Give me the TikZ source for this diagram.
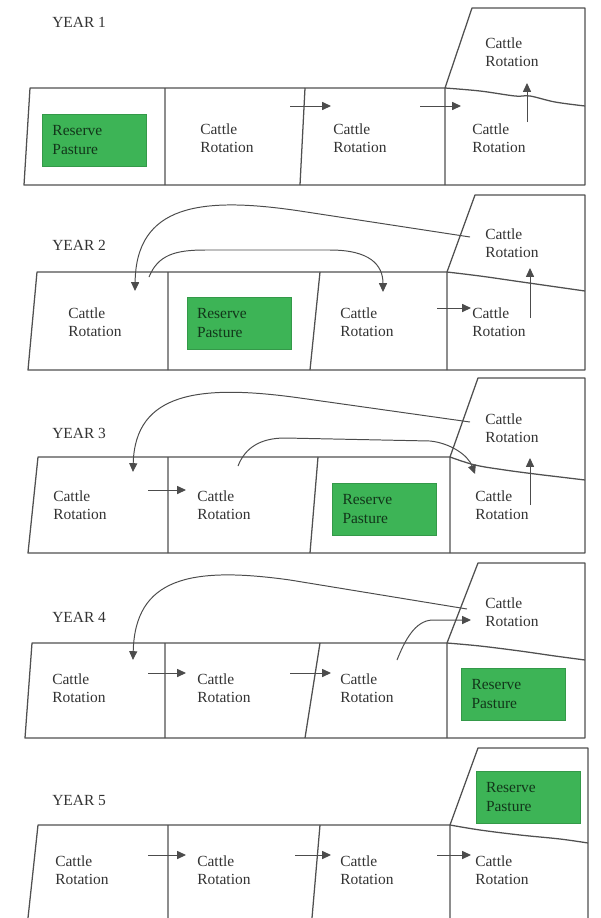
\documentclass[tikz,border=0pt]{standalone}
\usepackage{fontspec}
\setmainfont{Liberation Serif}
\usepackage{xcolor}
\usepackage{tikz}
\usetikzlibrary{arrows.meta}
\definecolor{ResGreen}{HTML}{3DB456}
\definecolor{FieldLine}{HTML}{505050}

\begin{document}
\begin{tikzpicture}[
	x=0.25mm, y=-0.25mm,
	field/.style={draw=FieldLine, line width=0.9pt, line join=round},
	lbl/.style={anchor=west, align=left, inner sep=0pt, font=\fontsize{11}{13}\selectfont, text=black!80},
	yearlbl/.style={anchor=west, inner sep=0pt, font=\fontsize{11}{13}\selectfont, text=black!80},
	resbox/.style={fill=ResGreen, draw=ResGreen!85!black, minimum width=26mm, minimum height=13mm, text width=21mm, inner xsep=2.5mm, align=left, font=\fontsize{11}{13}\selectfont, text=black!70!ResGreen},
	flow/.style={-{Triangle[length=2.2mm, width=2mm]}, draw=black!70, line width=0.7pt}
]
\useasboundingbox (0,0) rectangle (600,918);

\draw[field] (445,88) -- (472,8) -- (585,8) -- (585,185) -- (24,185) -- (30,88) -- cycle;
\draw[field] (165,88) -- (165,185) (305,88) -- (300,185) (445,88) -- (445,185);
\draw[field] plot[smooth, tension=0.6] coordinates {(445,88) (480,91) (515,96) (530,96) (555,102) (585,106)};
\node[yearlbl] (year1) at (52,22) {YEAR 1};
\node[resbox] (res1) at (94.5,140) {Reserve\\Pasture};
\node[lbl] (cr12) at (200,138) {Cattle\\Rotation};
\node[lbl] (cr13) at (333,138) {Cattle\\Rotation};
\node[lbl] (cr14) at (472,138) {Cattle\\Rotation};
\node[lbl] (up1) at (485,52) {Cattle\\Rotation};
\coordinate (y1a) at (290,106); \coordinate (y1b) at (331,106);
\coordinate (y1c) at (420,106); \coordinate (y1d) at (461,106);
\coordinate (y1e) at (527,122); \coordinate (y1f) at (527,83);
\draw[flow] (y1a) -- (y1b);
\draw[flow] (y1c) -- (y1d);
\draw[flow] (y1e) -- (y1f);

\draw[field] (447,272) -- (475,195) -- (585,195) -- (585,370) -- (28,370) -- (37,272) -- cycle;
\draw[field] (168,272) -- (168,370) (320,272) -- (310,370) (447,272) -- (447,370);
\draw[field] plot[smooth, tension=0.6] coordinates {(447,272) (480,276) (515,281) (550,286) (585,291)};
\node[yearlbl] (year2) at (52,245) {YEAR 2};
\node[lbl] (cr21) at (68,322) {Cattle\\Rotation};
\node[resbox] (res2) at (239,323) {Reserve\\Pasture};
\node[lbl] (cr23) at (340,322) {Cattle\\Rotation};
\node[lbl] (cr24) at (472,322) {Cattle\\Rotation};
\node[lbl] (up2) at (485,243) {Cattle\\Rotation};
\coordinate (y2a) at (470,237); \coordinate (y2b) at (300,211); \coordinate (y2c) at (135,291);
\coordinate (y2d) at (149,277); \coordinate (y2e) at (205,250); \coordinate (y2f) at (330,250); \coordinate (y2g) at (383,292);
\coordinate (y2h) at (437,308); \coordinate (y2i) at (471,308);
\coordinate (y2j) at (530,318); \coordinate (y2k) at (530,268);
\draw[flow] (y2a) -- (y2b) .. controls (200,196) and (136,205) .. (y2c);
\draw[flow] (y2d) .. controls (158,255) and (175,250) .. (y2e) -- (y2f) .. controls (370,250) and (383,265) .. (y2g);
\draw[flow] (y2h) -- (y2i);
\draw[flow] (y2j) -- (y2k);

\draw[field] (450,457) -- (478,378) -- (585,378) -- (585,553) -- (28,553) -- (38,457) -- cycle;
\draw[field] (168,457) -- (168,553) (318,457) -- (310,553) (450,457) -- (450,553);
\draw[field] plot[smooth, tension=0.6] coordinates {(450,457) (475,465) (505,470) (535,474) (560,477) (585,480)};
\node[yearlbl] (year3) at (52,433) {YEAR 3};
\node[lbl] (cr31) at (53,505) {Cattle\\Rotation};
\node[lbl] (cr32) at (197,505) {Cattle\\Rotation};
\node[resbox] (res3) at (384.5,509) {Reserve\\Pasture};
\node[lbl] (cr34) at (475,505) {Cattle\\Rotation};
\node[lbl] (up3) at (485,428) {Cattle\\Rotation};
\coordinate (y3a) at (470,422); \coordinate (y3b) at (300,398); \coordinate (y3c) at (133,472);
\coordinate (y3d) at (238,466); \coordinate (y3e) at (285,438); \coordinate (y3f) at (430,441); \coordinate (y3g) at (475,474);
\coordinate (y3h) at (148,490); \coordinate (y3i) at (186,490);
\coordinate (y3j) at (530,505); \coordinate (y3k) at (530,458);
\draw[flow] (y3a) -- (y3b) .. controls (200,384) and (135,392) .. (y3c);
\draw[flow] (y3d) .. controls (245,448) and (260,438) .. (y3e) -- (y3f) .. controls (450,443) and (468,455) .. (y3g);
\draw[flow] (y3h) -- (y3i);
\draw[flow] (y3j) -- (y3k);

\draw[field] (447,643) -- (478,563) -- (585,563) -- (585,738) -- (25,738) -- (32,643) -- cycle;
\draw[field] (165,643) -- (165,738) (320,643) -- (305,738) (447,643) -- (447,738);
\draw[field] plot[smooth, tension=0.6] coordinates {(447,643) (480,646) (520,651) (555,656) (585,660)};
\node[yearlbl] (year4) at (52,617) {YEAR 4};
\node[lbl] (cr41) at (52,688) {Cattle\\Rotation};
\node[lbl] (cr42) at (197,688) {Cattle\\Rotation};
\node[lbl] (cr43) at (340,688) {Cattle\\Rotation};
\node[resbox] (res4) at (513.5,694) {Reserve\\Pasture};
\node[lbl] (up4) at (485,612) {Cattle\\Rotation};
\coordinate (y4a) at (467,609); \coordinate (y4b) at (290,580); \coordinate (y4c) at (133,660);
\coordinate (y4d) at (397,660); \coordinate (y4e) at (432,620); \coordinate (y4f) at (471,620);
\coordinate (y4g) at (148,673); \coordinate (y4h) at (186,673);
\coordinate (y4i) at (290,673); \coordinate (y4j) at (331,673);
\draw[flow] (y4a) -- (y4b) .. controls (190,566) and (135,578) .. (y4c);
\draw[flow] (y4d) .. controls (405,640) and (415,621) .. (y4e) -- (y4f);
\draw[flow] (y4g) -- (y4h);
\draw[flow] (y4i) -- (y4j);

\draw[field] (450,825) -- (478,748) -- (588,748) -- (588,918);
\draw[field] (450,825) -- (38,825) -- (28,918);
\draw[field] (168,825) -- (168,918) (320,825) -- (312,918) (450,825) -- (450,918);
\draw[field] plot[smooth, tension=0.6] coordinates {(450,825) (480,830) (520,835) (560,839) (588,843)};
\node[yearlbl] (year5) at (52,800) {YEAR 5};
\node[resbox] (res5) at (528,797) {Reserve\\Pasture};
\node[lbl] (cr51) at (55,870) {Cattle\\Rotation};
\node[lbl] (cr52) at (197,870) {Cattle\\Rotation};
\node[lbl] (cr53) at (340,870) {Cattle\\Rotation};
\node[lbl] (cr54) at (475,870) {Cattle\\Rotation};
\coordinate (y5a) at (148,855); \coordinate (y5b) at (186,855);
\coordinate (y5c) at (295,855); \coordinate (y5d) at (331,855);
\coordinate (y5e) at (437,855); \coordinate (y5f) at (471,855);
\draw[flow] (y5a) -- (y5b);
\draw[flow] (y5c) -- (y5d);
\draw[flow] (y5e) -- (y5f);
\end{tikzpicture}
\end{document}
